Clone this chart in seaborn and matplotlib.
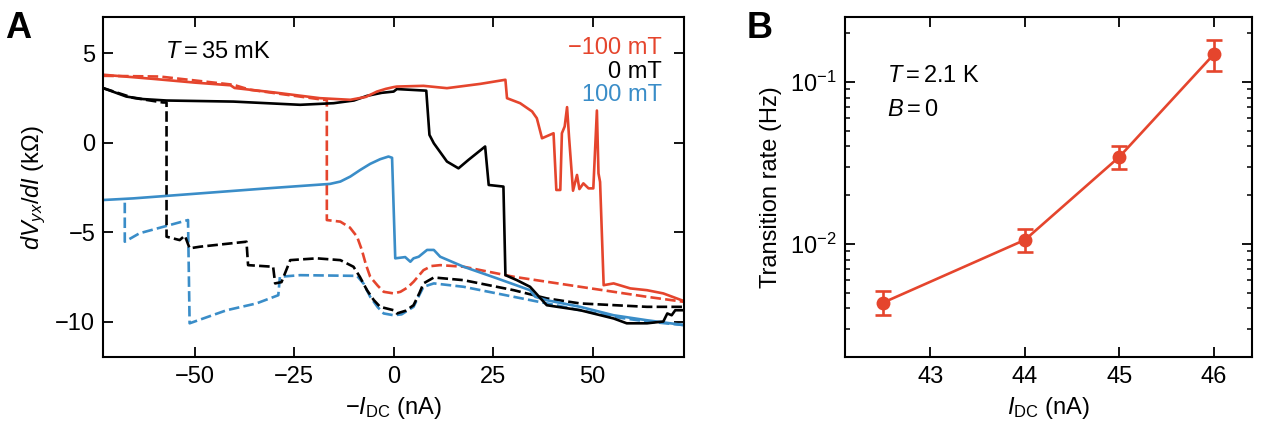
import numpy as np
import pandas as pd
import matplotlib
matplotlib.use("Agg")
import matplotlib.pyplot as plt
import matplotlib.ticker as mticker
import seaborn as sns

# ---------------- data: panel A ----------------
red_solid_x = [-73, -60, -50, -41, -40, -30, -18.5, -10.9, -7, -4.2, -2, 0, 0.8, 7.5, 13.4, 21.8, 28.1,
               28.5, 31.8, 34.8, 36, 37.3, 40.2, 40.9, 41.9, 42.3, 43, 43.6, 44.1, 45.1, 46.1,
               46.7, 47.7, 49, 50.2, 51.1, 51.5, 51.9, 52.8, 55.3, 59.5, 63.7, 67.8, 72.4, 73]
red_solid_y = [3.79, 3.55, 3.35, 3.2, 3.05, 2.8, 2.48, 2.39, 2.55, 2.85, 3.0, 3.1, 3.13, 3.17, 3.04, 3.28, 3.51,
               2.48, 2.2, 1.74, 1.36, 0.24, 0.52, -2.65, -2.65, 0.52, 0.9, 1.98, 0.3, -2.69, -1.81,
               -2.6, -2.28, -2.56, -2.56, 1.79, -1.72, -2.2, -7.97, -7.87, -8.15, -8.25, -8.43, -8.81, -8.85]

red_dash_x = [-73, -58.8, -40.3, -36.1, -17.6, -16.8, -16.8, -13.4, -11, -9.2, -8, -7, -5.9, -4, -2.5, 0,
              1.7, 3.5, 5, 7.5, 9.5, 11.7, 17.6, 30.2, 46.9, 55.3, 63.7, 73]
red_dash_y = [3.73, 3.69, 3.23, 2.95, 2.39, 2.39, -4.33, -4.42, -4.75, -5.26, -6.0, -6.8, -7.5, -8.0, -8.34, -8.43,
              -8.34, -8.1, -7.78, -7.13, -6.9, -6.85, -6.94, -7.5, -8.06, -8.34, -8.62, -8.9]

black_solid_x = [-73, -67.2, -63, -57.1, -40.3, -23.5, -15.1, -10, -6.7, -3, 0, 0.8, 8.2, 9, 10.1, 13.4, 16.3,
                 18.8, 23, 23.9, 27.6, 28.1, 31, 34.3, 38.5, 46.9, 55.3, 58.6, 63.7, 67.8, 68.8,
                 69.9, 70.8, 73]
black_solid_y = [3.04, 2.57, 2.43, 2.35, 2.29, 2.11, 2.2, 2.35, 2.61, 2.78, 2.85, 2.99, 2.9, 0.43, -0.04, -1.06, -1.44,
                 -0.97, -0.22, -2.37, -2.46, -7.41, -7.69, -8.06, -9.09, -9.37, -9.83, -10.1, -10.1, -10.0, -9.55,
                 -9.65, -9.37, -9.37]

black_dash_x = [-73, -65.5, -58, -57.1, -57.1, -53.8, -52.5, -51.3, -48.7, -37, -36.6, -30.3, -29.8,
                -28.2, -26, -19.3, -13.4, -10.1, -8.5, -6.7, -5, -3.4, 0, 0.8, 3, 5, 6.5, 7.5, 10.1, 17.6,
                30.2, 38.5, 46.9, 63.7, 73]
black_dash_y = [3.04, 2.5, 2.24, 2.24, -5.26, -5.45, -5.2, -5.91, -5.82, -5.54, -6.85, -6.94, -7.87,
                -7.8, -6.57, -6.47, -6.57, -6.94, -7.5, -8.25, -8.8, -9.18, -9.37, -9.55, -9.4, -9.09, -8.4, -7.87,
                -7.54, -7.69, -8.25, -8.71, -8.99, -9.18, -9.18]

blue_solid_x = [-73, -65.5, -48.7, -31.9, -16, -13.4, -10.9, -8.4, -5.9, -3.4, -1.3, -0.4, 0.4, 2.9, 4.2,
                5, 6.3, 8.4, 10.1, 11.7, 17.6, 26, 34.3, 35.6, 38.5, 46.9, 55.3, 63.7, 73]
blue_solid_y = [-3.21, -3.12, -2.84, -2.56, -2.31, -2.18, -1.9, -1.53, -1.19, -0.93, -0.78, -0.85, -6.47, -6.4, -6.66,
                -6.47, -6.38, -6.0, -6.0, -6.38, -6.94, -7.59, -8.25, -8.62, -8.81, -9.18, -9.65, -9.93, -10.2]

blue_dash_x = [-67.6, -67.6, -63.9, -51.7, -51.3, -42, -34.5, -29, -28.6, -23.5, -9.2, -7.5, -5.9, -4,
               -2.5, 0, 2, 5, 6.5, 7.5, 10.1, 17.6, 30.2, 38.5, 46.9, 55.3, 63.7, 73]
blue_dash_y = [-3.36, -5.54, -5.07, -4.33, -10.1, -9.37, -8.99, -8.53, -7.5, -7.41, -7.45, -7.9, -8.62, -9.2,
               -9.55, -9.65, -9.6, -9.18, -8.5, -8.06, -7.87, -8.06, -8.62, -8.99, -9.37, -9.74, -10.0, -10.2]

legend_labels = ["\u2212100 mT", "0 mT", "100 mT"]

# ---------------- data: panel B ----------------
idc = [42.5, 44, 45, 46]
rate = [0.00435, 0.0106, 0.0345, 0.148]
rate_hi = [0.00515, 0.0123, 0.0404, 0.182]
rate_lo = [0.00363, 0.0089, 0.029, 0.117]

RED = "#E5452D"
BLUE = "#3A8DC8"
BLACK = "#000000"
FS = 17

sns.set_style("ticks")
plt.rcParams["font.family"] = ["Liberation Sans", "DejaVu Sans"]
plt.rcParams["mathtext.fontset"] = "custom"
plt.rcParams["mathtext.rm"] = "Liberation Sans"
plt.rcParams["mathtext.it"] = "Liberation Sans:italic"
plt.rcParams["mathtext.bf"] = "Liberation Sans:bold"
plt.rcParams["lines.dashed_pattern"] = [4.0, 1.6]
plt.rcParams["axes.linewidth"] = 1.5
plt.rcParams["text.color"] = "black"
plt.rcParams["axes.labelcolor"] = "black"
plt.rcParams["axes.edgecolor"] = "black"
for ax_ in ("xtick", "ytick"):
    plt.rcParams[f"{ax_}.direction"] = "in"
    plt.rcParams[f"{ax_}.major.size"] = 7
    plt.rcParams[f"{ax_}.major.width"] = 1.3
    plt.rcParams[f"{ax_}.minor.size"] = 3.6
    plt.rcParams[f"{ax_}.minor.width"] = 1.1
    plt.rcParams[f"{ax_}.labelsize"] = FS
    plt.rcParams[f"{ax_}.color"] = "black"
    plt.rcParams[f"{ax_}.labelcolor"] = "black"
plt.rcParams["xtick.major.pad"] = 6.5
plt.rcParams["ytick.major.pad"] = 5.8

fig = plt.figure(figsize=(12.7, 4.4), dpi=100)
axA = fig.add_axes([103.3 / 1270, 1 - 357.3 / 440, 580.7 / 1270, 340 / 440])
axB = fig.add_axes([845 / 1270, 1 - 357.3 / 440, 406.7 / 1270, 340 / 440])

LW = 1.9
curves = [
    (blue_dash_x, blue_dash_y, BLUE, "--"),
    (black_dash_x, black_dash_y, BLACK, "--"),
    (red_dash_x, red_dash_y, RED, "--"),
    (blue_solid_x, blue_solid_y, BLUE, "-"),
    (black_solid_x, black_solid_y, BLACK, "-"),
    (red_solid_x, red_solid_y, RED, "-"),
]
for xs, ys, col, ls in curves:
    df = pd.DataFrame({"x": xs, "y": ys})
    sns.lineplot(data=df, x="x", y="y", ax=axA, sort=False, estimator=None,
                 color=col, linestyle=ls, linewidth=LW)

minus = lambda v, p: f"{int(v)}".replace("-", "\u2212")
axA.set_xlim(-73, 73)
axA.set_ylim(-12, 7)
axA.set_xticks([-50, -25, 0, 25, 50])
axA.set_yticks([5, 0, -5, -10])
axA.xaxis.set_major_formatter(mticker.FuncFormatter(minus))
axA.yaxis.set_major_formatter(mticker.FuncFormatter(minus))
axA.tick_params(top=True, right=True)
axA.set_xlabel(r"$-I_{\rm DC}$ (nA)", fontsize=FS, labelpad=5)
axA.set_ylabel(r"$dV_{yx}/dI$ (k$\Omega$)", fontsize=FS, labelpad=5)
axA.text(0.106, 0.899, r"$T = 35$ mK", transform=axA.transAxes, fontsize=FS,
         ha="left", va="center")
for lab, col, yy in zip(legend_labels, [RED, BLACK, BLUE], [0.909, 0.840, 0.771]):
    axA.text(0.962, yy, lab, color=col, transform=axA.transAxes, fontsize=FS,
             ha="right", va="center")

# ---------------- panel B ----------------
dfB = pd.DataFrame({"I": idc, "rate": rate})
yerr = np.array([np.array(rate) - np.array(rate_lo), np.array(rate_hi) - np.array(rate)])
axB.errorbar(idc, rate, yerr=yerr, fmt="none", ecolor=RED, elinewidth=1.9,
             capsize=5.5, capthick=1.9)
sns.lineplot(data=dfB, x="I", y="rate", ax=axB, color=RED, linewidth=1.9,
             marker="o", markersize=10, markeredgewidth=0, sort=False, estimator=None)
axB.set_yscale("log")
axB.set_xlim(42.095, 46.4)
axB.set_ylim(0.002, 0.25)
axB.set_xticks([43, 44, 45, 46])
axB.yaxis.set_major_locator(mticker.LogLocator(base=10, numticks=10))
axB.yaxis.set_minor_locator(mticker.LogLocator(base=10, subs=np.arange(2, 10), numticks=10))
axB.yaxis.set_minor_formatter(mticker.NullFormatter())
axB.tick_params(which="both", top=True, right=True)
axB.set_xlabel(r"$I_{\rm DC}$ (nA)", fontsize=FS, labelpad=5)
axB.set_ylabel("Transition rate (Hz)", fontsize=FS, labelpad=6)
axB.text(0.1025, 0.827, r"$T = 2.1$ K", transform=axB.transAxes, fontsize=FS,
         ha="left", va="center")
axB.text(0.1025, 0.727, r"$B = 0$", transform=axB.transAxes, fontsize=FS,
         ha="left", va="center")

fig.text(5 / 1270, 1 - 28 / 440, "A", fontsize=26, fontweight="bold", ha="left", va="center")
fig.text(747 / 1270, 1 - 29 / 440, "B", fontsize=26, fontweight="bold", ha="left", va="center")

fig.savefig("out.png", dpi=100)
